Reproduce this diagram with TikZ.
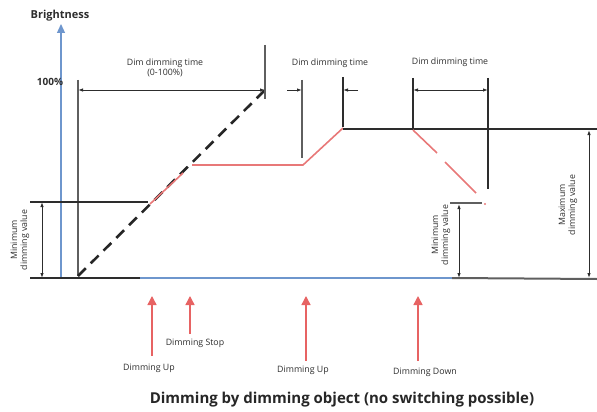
\documentclass[tikz,border=0pt]{standalone}
\usepackage{fontspec}
\setmainfont{Open Sans}
\usetikzlibrary{arrows.meta}
\definecolor{axblue}{RGB}{110,150,205}
\definecolor{redl}{RGB}{232,120,120}
\definecolor{reda}{RGB}{225,60,60}
\definecolor{dk}{RGB}{45,45,45}
\definecolor{gr}{RGB}{95,95,95}
\begin{document}
\begin{tikzpicture}[x=1pt,y=-1pt,
  lbl/.style={font=\fontsize{8.8}{10}\selectfont, text=dk, align=center, inner sep=0pt},
  dim/.style={dk, line width=0.9pt, {Latex[length=5pt,width=3.5pt]}-{Latex[length=5pt,width=3.5pt]}},
  dimone/.style={dk, line width=0.9pt, -{Latex[length=5pt,width=3.5pt]}},
  grayv/.style={gr, line width=1.8pt},
  blackl/.style={dk, line width=1.2pt},
  redline/.style={redl, line width=1.6pt},
  redarrow/.style={reda!80, line width=1.4pt, -{Triangle[length=9pt,width=9pt]}},
  every node/.style={inner sep=0pt}]
\useasboundingbox (0,0) rectangle (597,412);

% coordinates
\coordinate (o) at (78,276);
\coordinate (t) at (265,90);
\coordinate (axb) at (61,278);
\coordinate (axt) at (61,24);

% axis
\draw[axblue, line width=1.2pt, -{Triangle[length=9pt,width=8pt]}] (axb) -- (axt);
\node[font=\fontsize{11}{12}\selectfont\bfseries, text=dk] (bright) at (60,16) {Brightness};
\node[font=\fontsize{10}{11}\selectfont\bfseries, text=dk] (pct) at (50,82) {100\%};

% baselines
\coordinate (b0) at (30,278);
\coordinate (b1) at (140,278);
\coordinate (b2) at (452,278);
\coordinate (b3) at (597,279);
\draw[blackl] (b0) -- (b1);
\draw[axblue, line width=1.2pt] (b1) -- (b2);
\draw[gr, line width=2pt] (b2) -- (b3);

% left vertical
\coordinate (v0a) at (78,80);
\coordinate (v0b) at (78,276);
\draw[grayv] (v0a) -- (v0b);
% dashed ramp
\draw[black!85, line width=2.6pt, dash pattern=on 11pt off 7pt] (o) -- (t);
% vertical at 265
\coordinate (v1a) at (265,45);
\coordinate (v1b) at (265,99);
\draw[grayv] (v1a) -- (v1b);
\draw[dim] (78,90) -- (265,90);
\node[lbl] (l1) at (165,68) {Dim dimming time\\(0-100\%)};

% left min dimming
\coordinate (m0) at (30,202);
\coordinate (m1) at (148,202);
\draw[blackl] (m0) -- (m1);
\draw[dim] (42,202) -- (42,278);
\node[lbl, rotate=90] (lmin) at (20,240) {Minimum\\dimming value};

% red curve
\draw[redline] (150,204) -- (183,173);
\draw[redline] (192,165) -- (303,165) -- (343,128);

% short dim
\coordinate (v2a) at (302,80);
\coordinate (v2b) at (302,158);
\coordinate (v3a) at (343,77);
\coordinate (v3b) at (343,127);
\draw[grayv] (v2a) -- (v2b);
\draw[blackl, line width=1.4pt] (v3a) -- (v3b);
\draw[dimone] (287,90) -- (302,90);
\draw[dimone] (358,90) -- (343,90);
\node[lbl] (l2) at (330,63) {Dim dimming time};

% top horizontal
\coordinate (h0) at (343,129);
\coordinate (h1) at (597,129);
\draw[blackl] (h0) -- (h1);

% down dim
\coordinate (v4a) at (413,78);
\coordinate (v4b) at (413,128);
\coordinate (v5a) at (488,78);
\coordinate (v5b) at (488,189);
\draw[blackl, line width=1.4pt] (v4a) -- (v4b);
\draw[blackl, line width=1.4pt] (v5a) -- (v5b);
\draw[dim] (413,90) -- (488,90);
\node[lbl] (l3) at (450,62) {Dim dimming time};

% red down
\draw[redline] (413,130) -- (437,153);
\draw[redline] (445,162) -- (476,193);
\fill[redl] (485,204) circle (1.1pt);

% right min
\coordinate (r0) at (450,203);
\coordinate (r1) at (482,203);
\draw[gr, line width=1.6pt] (r0) -- (r1);
\draw[dim] (459,204) -- (459,278);
\node[lbl, rotate=90] (rmin) at (441,235) {Minimum\\dimming value};

% max
\draw[dim] (589,130) -- (589,278);
\node[lbl, rotate=90] (rmax) at (568,205) {Maximum\\dimming value};

% red event arrows
\coordinate (e1a) at (152,356); \coordinate (e1b) at (152,296);
\coordinate (e2a) at (190,334); \coordinate (e2b) at (190,296);
\coordinate (e3a) at (306,361); \coordinate (e3b) at (306,296);
\coordinate (e4a) at (418,361); \coordinate (e4b) at (418,296);
\draw[redarrow] (e1a) -- (e1b);
\draw[redarrow] (e2a) -- (e2b);
\draw[redarrow] (e3a) -- (e3b);
\draw[redarrow] (e4a) -- (e4b);
\node[lbl] (d1) at (149,368) {Dimming Up};
\node[lbl] (d2) at (195,343) {Dimming Stop};
\node[lbl] (d3) at (303,370) {Dimming Up};
\node[lbl] (d4) at (425,372) {Dimming Down};

\node[font=\fontsize{15}{17}\selectfont\bfseries, text=black!85] (title) at (342,400) {Dimming by dimming object (no switching possible)};
\end{tikzpicture}
\end{document}
